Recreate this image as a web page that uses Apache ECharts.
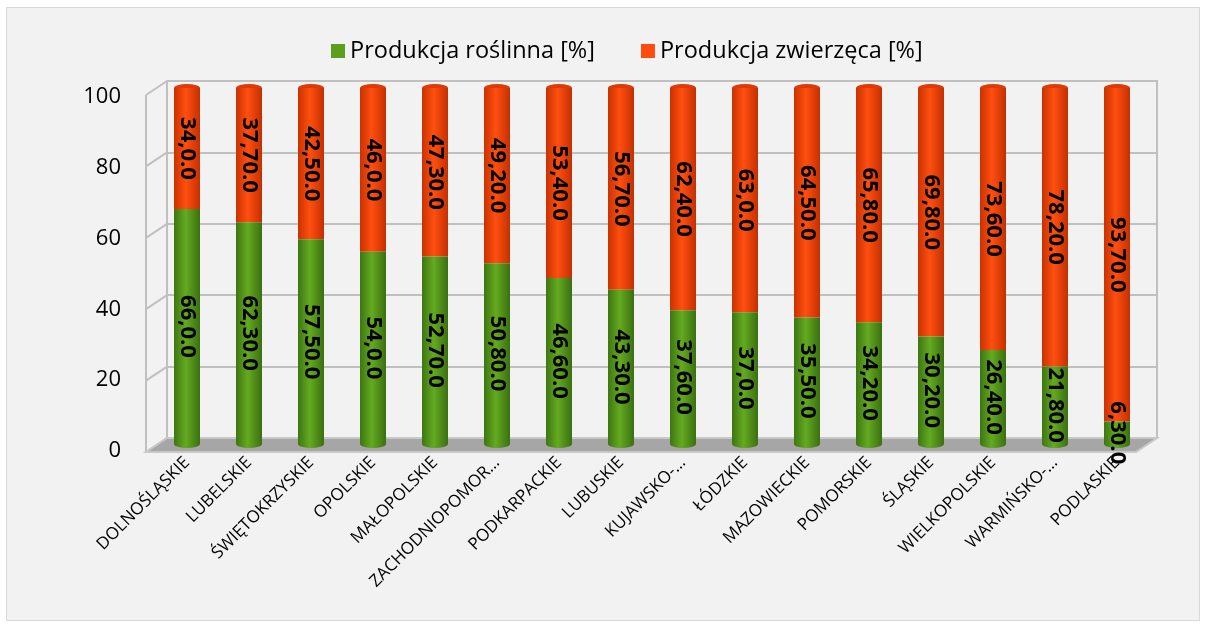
<!DOCTYPE html>
<html>
<head>
<meta charset="utf-8">
<script src="https://cdn.jsdelivr.net/npm/echarts@6/dist/echarts.min.js"></script>
<style>
html,body{margin:0;padding:0;background:#ffffff;width:1206px;height:627px;overflow:hidden;}
#c{position:absolute;left:7px;top:8px;width:1192px;height:612px;background:#f2f2f2;box-shadow:0 0 0 1px #d9d9d9;}
</style>
</head>
<body>
<div id="c"></div>
<script>
const categories = ['DOLNOŚLĄSKIE','LUBELSKIE','ŚWIĘTOKRZYSKIE','OPOLSKIE','MAŁOPOLSKIE','ZACHODNIOPOMOR…','PODKARPACKIE','LUBUSKIE','KUJAWSKO-…','ŁÓDZKIE','MAZOWIECKIE','POMORSKIE','ŚLĄSKIE','WIELKOPOLSKIE','WARMIŃSKO-…','PODLASKIE'];
const plant = [66.0, 62.3, 57.5, 54.0, 52.7, 50.8, 46.6, 43.3, 37.6, 37.0, 35.5, 34.2, 30.2, 26.4, 21.8, 6.3];
const animal = [34.0, 37.7, 42.5, 46.0, 47.3, 49.2, 53.4, 56.7, 62.4, 63.0, 64.5, 65.8, 69.8, 73.6, 78.2, 93.7];
const plantLabels = ['66,0.0','62,30.0','57,50.0','54,0.0','52,70.0','50,80.0','46,60.0','43,30.0','37,60.0','37,0.0','35,50.0','34,20.0','30,20.0','26,40.0','21,80.0','6,30.0'];
const animalLabels = ['34,0.0','37,70.0','42,50.0','46,0.0','47,30.0','49,20.0','53,40.0','56,70.0','62,40.0','63,0.0','64,50.0','65,80.0','69,80.0','73,60.0','78,20.0','93,70.0'];
const yTicks = [0, 20, 40, 60, 80, 100];
const seriesNames = ['Produkcja roślinna [%]', 'Produkcja zwierzęca [%]'];

const totals = plant.map((p, i) => p + animal[i]);
const DX = -21, DY = 14;
const FONT = 'Open Sans';

function grad(c0, c1, c2) {
  return new echarts.graphic.LinearGradient(0, 0, 1, 0, [
    {offset: 0, color: c0}, {offset: 0.45, color: c1}, {offset: 1, color: c2}
  ]);
}
const greenFill = grad('#3d7612', '#64aa20', '#3a7011');
const orangeFill = grad('#c93200', '#ff4f10', '#c43000');

function wallItem(params, api) {
  const cs = params.coordSys;
  const y = api.coord([0, api.value(1)])[1];
  const children = [{
    type: 'line',
    shape: {x1: cs.x, y1: y, x2: cs.x + DX, y2: y + DY},
    style: {stroke: '#c0c0c0', lineWidth: 2}
  }];
  if (params.dataIndex === 0) {
    children.push({
      type: 'line',
      shape: {x1: cs.x + DX, y1: cs.y + DY, x2: cs.x + DX, y2: cs.y + cs.height + DY},
      style: {stroke: '#c0c0c0', lineWidth: 2}
    });
  }
  return {type: 'group', children};
}
function floorItem(params, api) {
  const cs = params.coordSys;
  const y = api.coord([0, api.value(1)])[1];
  return {
    type: 'polygon',
    shape: {points: [[cs.x, y], [cs.x + cs.width, y], [cs.x + cs.width + DX, y + DY], [cs.x + DX, y + DY]]},
    style: {fill: '#a6a6a6', stroke: '#c8c8c8', lineWidth: 2}
  };
}

const chart = echarts.init(document.getElementById('c'), null, {renderer: 'canvas'});
const labelBase = {
  show: true, position: 'inside', rotate: -90, color: '#000',
  fontFamily: FONT, fontWeight: 'bold', fontSize: 22
};
chart.setOption({
  backgroundColor: '#f2f2f2',
  animation: false,
  legend: {
    top: 26, left: 319, itemWidth: 14, itemHeight: 14, itemGap: 46, icon: 'rect',
    textStyle: {fontFamily: FONT, fontSize: 23.5, color: '#000'},
    data: [
      {name: seriesNames[0], itemStyle: {color: '#5c9f1f'}},
      {name: seriesNames[1], itemStyle: {color: '#ff4a10'}}
    ]
  },
  grid: [
    {left: 160, top: 73, width: 990, height: 357, show: true, borderColor: '#c0c0c0', borderWidth: 2, backgroundColor: 'transparent'},
    {left: 149, top: 80, width: 992, height: 356},
    {left: 139, top: 89, width: 990, height: 354}
  ],
  xAxis: [
    {gridIndex: 0, type: 'category', data: categories, show: false},
    {gridIndex: 1, type: 'category', data: categories,
      axisLine: {show: false}, axisTick: {show: false},
      axisLabel: {interval: 0, rotate: 45, margin: 16, fontFamily: FONT, fontSize: 17, color: '#000'}},
    {gridIndex: 2, type: 'category', data: categories, show: false}
  ],
  yAxis: [
    {gridIndex: 0, type: 'value', min: 0, max: 100, interval: 20,
      axisLine: {show: false}, axisTick: {show: false}, axisLabel: {show: false},
      splitLine: {lineStyle: {color: '#c0c0c0', width: 2}}},
    {gridIndex: 1, type: 'value', min: 0, max: 100, interval: 20, show: false, splitLine: {show: false}},
    {gridIndex: 2, type: 'value', min: 0, max: 100, interval: 20,
      axisLine: {show: false}, axisTick: {show: false}, splitLine: {show: false},
      axisLabel: {margin: 25, fontFamily: FONT, fontSize: 22, color: '#000'}}
  ],
  series: [
    {type: 'custom', name: 'wall', xAxisIndex: 0, yAxisIndex: 0, z: 1, silent: true,
      renderItem: wallItem, data: yTicks.map(v => [0, v])},
    {type: 'custom', name: 'floor', xAxisIndex: 0, yAxisIndex: 0, z: 1, silent: true,
      renderItem: floorItem, data: [[0, yTicks[0]]]},
    {type: 'pictorialBar', name: 'bottomCap', xAxisIndex: 1, yAxisIndex: 1, z: 2, silent: true,
      symbol: 'circle', symbolSize: [26, 8], symbolPosition: 'start', symbolOffset: [0, '50%'],
      itemStyle: {color: greenFill}, data: plant},
    {type: 'bar', name: seriesNames[0], stack: 'total', xAxisIndex: 1, yAxisIndex: 1, z: 4,
      barWidth: 26, itemStyle: {color: greenFill}, data: plant,
      label: Object.assign({}, labelBase, {formatter: p => plantLabels[p.dataIndex]})},
    {type: 'bar', name: seriesNames[1], stack: 'total', xAxisIndex: 1, yAxisIndex: 1, z: 3,
      barWidth: 26, itemStyle: {color: orangeFill}, data: animal,
      label: Object.assign({}, labelBase, {formatter: p => animalLabels[p.dataIndex]})},
    {type: 'pictorialBar', name: 'topCap', xAxisIndex: 1, yAxisIndex: 1, z: 3, silent: true,
      symbol: 'circle', symbolSize: [26, 8], symbolPosition: 'end', symbolOffset: [0, '-50%'],
      itemStyle: {color: '#dd3a05'}, data: totals}
  ]
});
</script>
</body>
</html>
